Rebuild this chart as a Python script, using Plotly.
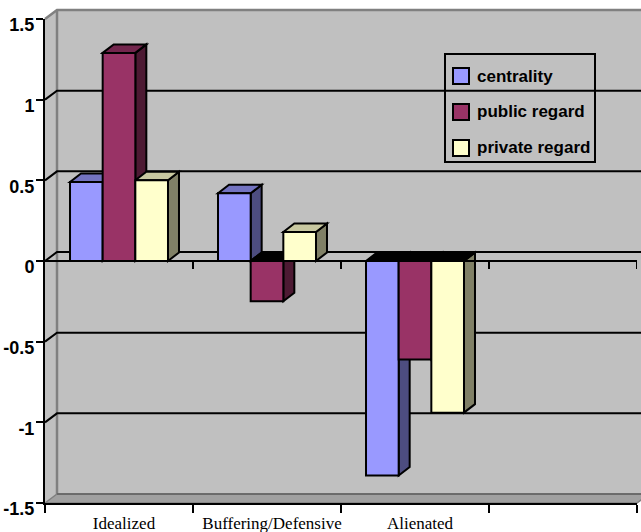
import plotly.graph_objects as go

# ---- data -------------------------------------------------------------
categories = ["Idealized", "Buffering/Defensive", "Alienated", " "]
series_names = ["centrality", "public regard", "private regard"]
centrality = [0.49, 0.42, -1.33, None]
public_regard = [1.29, -0.25, -0.61, None]
private_regard = [0.50, 0.18, -0.94, None]
y_tick_values = [-1.5, -1, -0.5, 0, 0.5, 1, 1.5]
y_tick_labels = ["-1.5", "-1", "-0.5", "0", "0.5", "1", "1.5"]

# ---- styling ----------------------------------------------------------
front_colors = ["#9999FF", "#993366", "#FFFFCC"]
top_colors = ["#7373C0", "#73264D", "#C8C8A0"]
side_colors = ["#4D4D80", "#4D1A33", "#808066"]

FIG_W, FIG_H = 641, 532
M_L, M_R, M_T, M_B = 45, 4, 19, 29
PLOT_W = FIG_W - M_L - M_R
PLOT_H = FIG_H - M_T - M_B
Y_MIN, Y_MAX = -1.5, 1.5
N_CAT = len(categories)
BARGAP = 0.338

WALL_DX, WALL_DY = 12, 9      # depth of the walls, in px
BAR_DX, BAR_DY = 11, 8.5      # depth of the columns, in px

px_per_cat = PLOT_W / N_CAT
px_per_unit = PLOT_H / (Y_MAX - Y_MIN)


def y_paper(v):
    return (v - Y_MIN) / (Y_MAX - Y_MIN)


wdx = WALL_DX / PLOT_W
wdy = WALL_DY / PLOT_H

shapes = []

# back wall + side wall
shapes.append(dict(
    type="path", xref="paper", yref="paper", layer="below",
    path=(f"M0,0 L0,1 L{wdx},{1 + wdy} L{1 + wdx},{1 + wdy} "
          f"L{1 + wdx},{wdy} L1,0 Z"),
    fillcolor="#C0C0C0", line=dict(width=0)))
# floor
shapes.append(dict(
    type="path", xref="paper", yref="paper", layer="below",
    path=f"M0,0 L{wdx},{wdy} L{1 + wdx},{wdy} L1,0 Z",
    fillcolor="#A0A0A0", line=dict(color="#808080", width=1.5)))
# wall edges
shapes.append(dict(
    type="path", xref="paper", yref="paper", layer="below",
    path=f"M0,1 L{wdx},{1 + wdy} L{1 + wdx},{1 + wdy}",
    line=dict(color="#808080", width=2.5)))
shapes.append(dict(
    type="line", xref="paper", yref="paper", layer="below",
    x0=wdx, y0=wdy, x1=wdx, y1=1 + wdy,
    line=dict(color="#808080", width=2.5)))
shapes.append(dict(
    type="line", xref="paper", yref="paper", layer="below",
    x0=wdx, y0=wdy, x1=1 + wdx, y1=wdy,
    line=dict(color="#606060", width=1.5)))

# gridlines on the walls
for v in y_tick_values[1:-1]:
    yp = y_paper(v)
    shapes.append(dict(
        type="path", xref="paper", yref="paper", layer="below",
        path=f"M0,{yp} L{wdx},{yp + wdy} L{1 + wdx},{yp + wdy}",
        line=dict(color="black", width=2)))

# 3-D faces of the columns
series_values = [centrality, public_regard, private_regard]
n_series = len(series_values)
bar_w = (1 - BARGAP) / n_series
ddx = BAR_DX / px_per_cat
ddy = BAR_DY / px_per_unit
for i in range(N_CAT):
    for s, vals in enumerate(series_values):
        v = vals[i]
        if v is None:
            continue
        x0 = i - (1 - BARGAP) / 2 + s * bar_w
        x1 = x0 + bar_w
        lo, hi = min(0, v), max(0, v)
        shapes.append(dict(
            type="path", xref="x", yref="y", layer="below",
            path=(f"M{x1},{lo} L{x1 + ddx},{lo + ddy} "
                  f"L{x1 + ddx},{hi + ddy} L{x1},{hi} Z"),
            fillcolor=side_colors[s], line=dict(color="black", width=2)))
        shapes.append(dict(
            type="path", xref="x", yref="y", layer="below",
            path=(f"M{x0},{hi} L{x0 + ddx},{hi + ddy} "
                  f"L{x1 + ddx},{hi + ddy} L{x1},{hi} Z"),
            fillcolor=top_colors[s] if v >= 0 else "black",
            line=dict(color="black", width=2)))

# category ticks on the zero line
tick_len = 8 / px_per_unit
for k in range(N_CAT):
    shapes.append(dict(
        type="line", xref="x", yref="y", layer="above",
        x0=k + 0.5, x1=k + 0.5, y0=0, y1=-tick_len,
        line=dict(color="black", width=2)))

# legend box and swatches
def px_to_paper_x(px):
    return (px - M_L) / PLOT_W


def px_to_paper_y(py):
    return (FIG_H - M_B - py) / PLOT_H


shapes.append(dict(
    type="rect", xref="paper", yref="paper", layer="above",
    x0=px_to_paper_x(445), x1=px_to_paper_x(595),
    y0=px_to_paper_y(162), y1=px_to_paper_y(54),
    line=dict(color="black", width=2), fillcolor="rgba(0,0,0,0)"))

annotations = []
legend_rows = [76, 112, 148]
for s, name in enumerate(series_names):
    cy = legend_rows[s]
    shapes.append(dict(
        type="rect", xref="paper", yref="paper", layer="above",
        x0=px_to_paper_x(453), x1=px_to_paper_x(469),
        y0=px_to_paper_y(cy + 8), y1=px_to_paper_y(cy - 8),
        fillcolor=front_colors[s], line=dict(color="black", width=2)))
    annotations.append(dict(
        xref="paper", yref="paper", x=px_to_paper_x(475), y=px_to_paper_y(cy),
        xanchor="left", yanchor="middle", showarrow=False, text=name,
        font=dict(family="Liberation Sans, Arial", size=17, color="black",
                  weight="bold")))

fig = go.Figure()
for s, vals in enumerate(series_values):
    fig.add_trace(go.Bar(
        x=categories, y=vals, name=series_names[s],
        marker=dict(color=front_colors[s], line=dict(color="black", width=2)),
        showlegend=False))

fig.update_layout(
    width=FIG_W, height=FIG_H,
    margin=dict(l=M_L, r=M_R, t=M_T, b=M_B, pad=0, autoexpand=False),
    paper_bgcolor="white", plot_bgcolor="rgba(0,0,0,0)",
    barmode="group", bargap=BARGAP, bargroupgap=0,
    shapes=shapes, annotations=annotations, showlegend=False,
)
fig.update_xaxes(
    type="category", categoryorder="array", categoryarray=categories,
    range=[-0.5, N_CAT - 0.5], showgrid=False, zeroline=False,
    showline=True, linecolor="black", linewidth=2, automargin=False,
    ticks="outside", tickson="boundaries", ticklen=8, tickwidth=2,
    tickcolor="black", ticklabelshift=5, ticklabelstandoff=4, tickangle=0,
    tickfont=dict(family="Liberation Serif, Times New Roman", size=17,
                  color="black"),
)
fig.update_yaxes(
    range=[Y_MIN, Y_MAX], tickvals=y_tick_values, ticktext=y_tick_labels,
    showgrid=False, zeroline=True, zerolinecolor="black", zerolinewidth=2,
    showline=True, linecolor="black", linewidth=2, automargin=False,
    ticks="outside", ticklen=7, tickwidth=2, tickcolor="black",
    ticklabelshift=6, ticklabelstandoff=-2,
    tickfont=dict(family="Liberation Sans, Arial", size=18, color="black",
                  weight="bold"),
)

fig.write_html("out.html")
